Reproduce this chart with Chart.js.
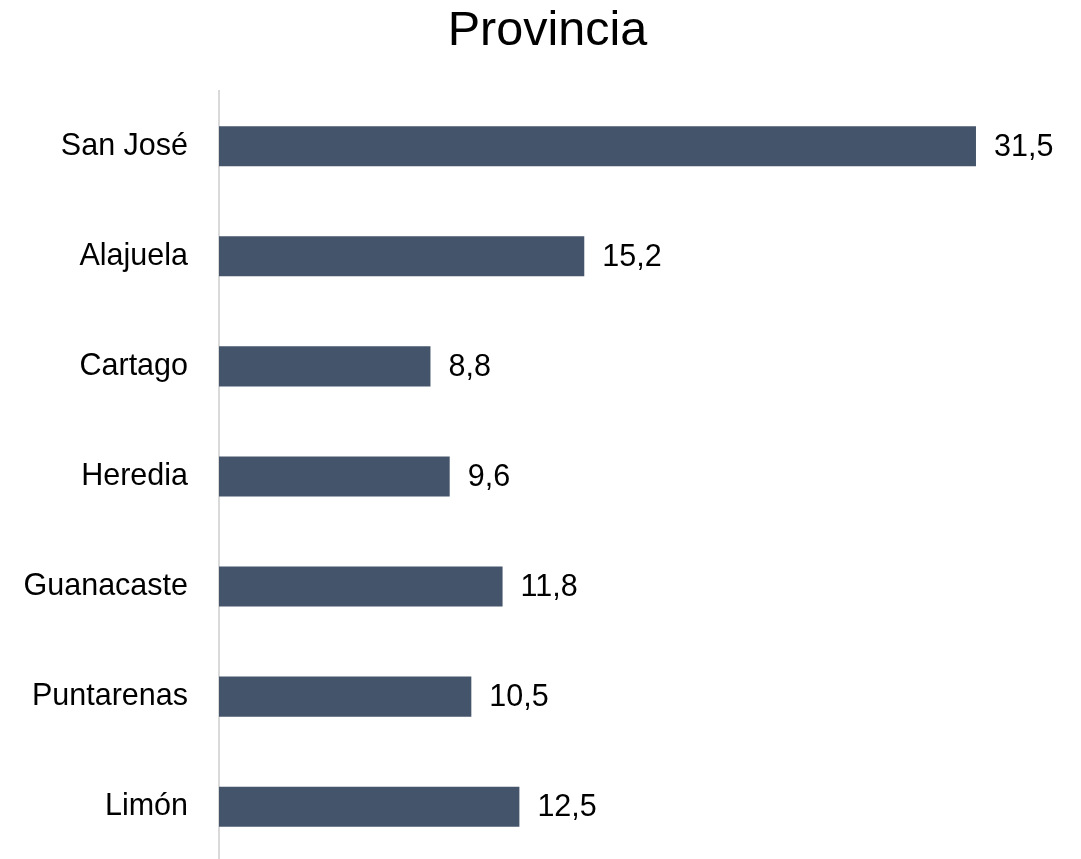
<!DOCTYPE html>
<html>
<head>
<meta charset="utf-8">
<script src="https://cdn.jsdelivr.net/npm/chart.js@4"></script>
<style>
  html, body { margin: 0; padding: 0; background: #fff; overflow: hidden; }
  #wrap { width: 1081px; height: 911px; }
</style>
</head>
<body>
<div id="wrap"><canvas id="provincia" width="1081" height="911"></canvas></div>
<script>
const provincias = ["San José", "Alajuela", "Cartago", "Heredia", "Guanacaste", "Puntarenas", "Limón"];
const porcentajes = [31.5, 15.2, 8.8, 9.6, 11.8, 10.5, 12.5];

// etiquetas con coma decimal al final de cada barra
const barLabels = {
  id: 'barLabels',
  afterDatasetsDraw(chart) {
    const ctx = chart.ctx;
    const meta = chart.getDatasetMeta(0);
    ctx.save();
    ctx.font = '30.5px "Liberation Sans", Arial, sans-serif';
    ctx.fillStyle = '#000';
    ctx.textAlign = 'left';
    ctx.textBaseline = 'middle';
    meta.data.forEach((bar, i) => {
      const txt = porcentajes[i].toFixed(1).replace('.', ',');
      ctx.fillText(txt, bar.x + 18, bar.y + 1);
    });
    ctx.restore();
  }
};

new Chart(document.getElementById("provincia"), {
  type: 'bar',
  data: {
    labels: provincias,
    datasets: [{
      data: porcentajes,
      backgroundColor: '#44546a',
      borderWidth: 0,
      categoryPercentage: 1,
      barPercentage: 0.364
    }]
  },
  plugins: [barLabels],
  options: {
    indexAxis: 'y',
    responsive: false,
    animation: false,
    devicePixelRatio: 1,
    layout: { padding: { left: 14, right: 0, top: 0, bottom: 0 } },
    plugins: {
      legend: { display: false },
      tooltip: { enabled: false },
      title: {
        display: true,
        text: 'Provincia',
        color: '#000',
        font: { family: '"Liberation Sans", Arial, sans-serif', size: 48.5, weight: 'normal', lineHeight: 1.2 },
        padding: { top: 3, bottom: 30 }
      }
    },
    scales: {
      x: {
        display: false,
        min: 0,
        max: 35.87
      },
      y: {
        afterFit(scale) { scale.width = 205; },
        grid: { display: false, drawTicks: false },
        border: { display: true, color: '#d9d9d9', width: 2 },
        ticks: {
          color: '#000',
          padding: 31,
          font: { family: '"Liberation Sans", Arial, sans-serif', size: 30.5 }
        }
      }
    }
  }
});
</script>
</body>
</html>
